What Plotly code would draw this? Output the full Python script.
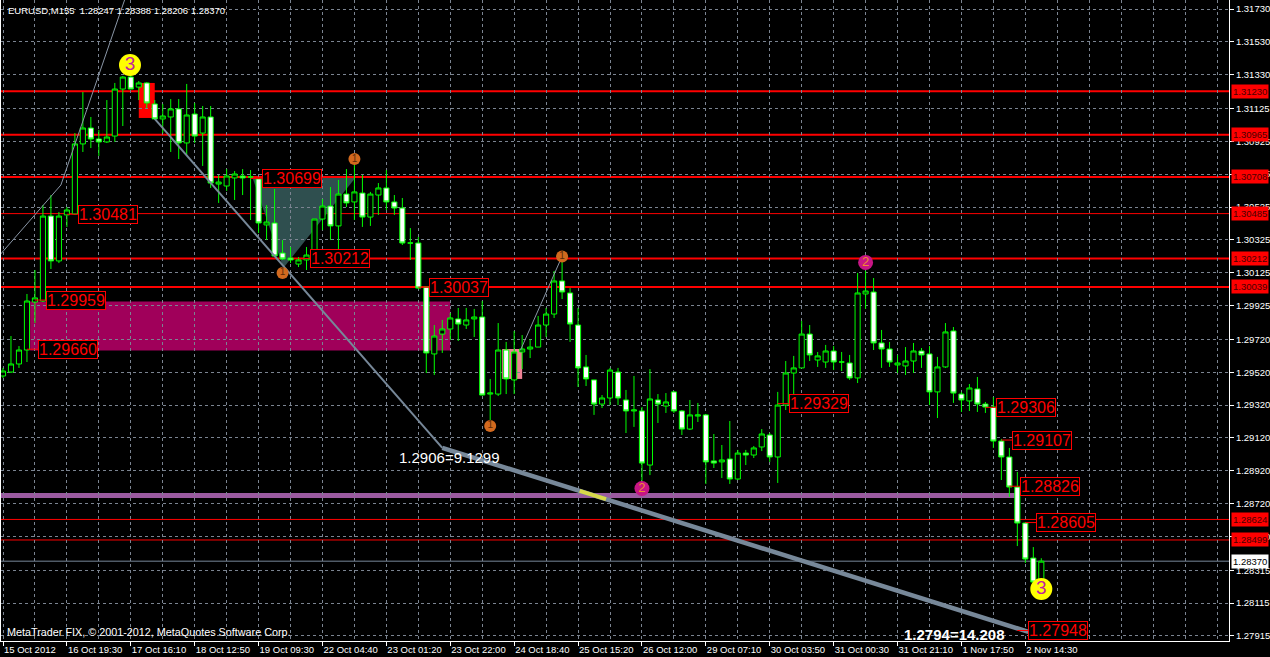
import numpy as np
import plotly.graph_objects as go

# ---------------- data ----------------
bar_index = list(range(131))
opens = [1.29497,1.29521,1.29570,1.29655,1.29947,1.29953,1.30470,1.30197,1.30477,1.30483,
         1.30909,1.31006,1.30939,1.30921,1.30957,1.31243,1.31316,1.31255,1.31280,1.31152,
         1.31061,1.31073,1.31122,1.30915,1.31091,1.30975,1.31073,1.30665,1.30653,1.30702,
         1.30714,1.30708,1.30696,1.30416,1.30428,1.30245,1.30215,1.30178,1.30203,1.30215,
         1.30452,1.30531,1.30410,1.30604,1.30556,1.30610,1.30464,1.30598,1.30641,1.30556,
         1.30519,1.30306,1.30306,1.30038,1.29631,1.29752,1.29783,1.29844,1.29807,1.29844,
         1.29856,1.29387,1.29387,1.29655,1.29473,1.29643,1.29661,1.29673,1.29807,1.29874,
         1.30075,1.30002,1.29807,1.29552,1.29473,1.29326,1.29363,1.29521,1.29351,1.29284,
         1.29284,1.28955,1.29351,1.29314,1.29400,1.29284,1.29174,1.29253,1.29260,1.28980,
         1.28974,1.28992,1.28870,1.29028,1.29016,1.29065,1.29138,1.29004,1.29320,1.29515,
         1.29546,1.29752,1.29594,1.29582,1.29649,1.29582,1.29576,1.29485,1.29996,1.30008,
         1.29698,1.29661,1.29564,1.29558,1.29588,1.29649,1.29631,1.29400,1.29552,1.29771,
         1.29387,1.29345,1.29418,1.29326,1.29308,1.29101,1.29004,1.28821,1.28602,1.28389,
         1.28247]
highs = [1.29546,1.29740,1.29679,1.29996,1.30142,1.30537,1.30598,1.30495,1.30525,1.30975,
         1.31225,1.31073,1.30994,1.31176,1.31280,1.31322,1.31347,1.31292,1.31286,1.31176,
         1.31152,1.31182,1.31182,1.31274,1.31158,1.31140,1.31140,1.30720,1.30756,1.30744,
         1.30756,1.30750,1.30702,1.30537,1.30635,1.30324,1.30282,1.30221,1.30282,1.30452,
         1.30574,1.30647,1.30690,1.30756,1.30811,1.30720,1.30617,1.30671,1.30750,1.30598,
         1.30580,1.30397,1.30343,1.30038,1.29807,1.29838,1.29880,1.29911,1.29911,1.29905,
         1.29953,1.29479,1.29819,1.29704,1.29771,1.29746,1.29722,1.29862,1.29911,1.30136,
         1.30197,1.30032,1.29911,1.29625,1.29473,1.29381,1.29546,1.29546,1.29412,1.29497,
         1.29308,1.29539,1.29387,1.29393,1.29406,1.29290,1.29351,1.29333,1.29266,1.29144,
         1.29077,1.29223,1.29047,1.29047,1.29071,1.29174,1.29150,1.29400,1.29588,1.29619,
         1.29832,1.29807,1.29643,1.29686,1.29679,1.29643,1.29625,1.30124,1.30136,1.30093,
         1.29777,1.29704,1.29625,1.29673,1.29698,1.29667,1.29679,1.29613,1.29819,1.29795,
         1.29400,1.29448,1.29491,1.29339,1.29369,1.29114,1.29059,1.28913,1.28608,1.28456,
         1.28388]
lows = [1.29485,1.29515,1.29546,1.29582,1.29819,1.29947,1.30148,1.30184,1.30404,1.30477,
        1.30860,1.30884,1.30836,1.30915,1.30921,1.31018,1.31243,1.31176,1.31128,1.31055,
        1.30975,1.30860,1.30817,1.30836,1.30915,1.30775,1.30641,1.30550,1.30623,1.30568,
        1.30598,1.30446,1.30367,1.30324,1.30221,1.30203,1.30184,1.30160,1.30142,1.30203,
        1.30385,1.30324,1.30221,1.30525,1.30446,1.30404,1.30410,1.30477,1.30507,1.30477,
        1.30294,1.30203,1.30026,1.29515,1.29503,1.29637,1.29716,1.29710,1.29783,1.29734,
        1.29381,1.29199,1.29375,1.29387,1.29387,1.29539,1.29606,1.29673,1.29734,1.29850,
        1.29965,1.29704,1.29430,1.29436,1.29260,1.29302,1.29320,1.29320,1.29150,1.29187,
        1.28846,1.28894,1.29211,1.29272,1.29272,1.29138,1.29168,1.29217,1.28840,1.28937,
        1.28876,1.28840,1.28864,1.28955,1.28998,1.29040,1.28974,1.28846,1.29290,1.29375,
        1.29546,1.29588,1.29552,1.29546,1.29533,1.29527,1.29473,1.29454,1.29905,1.29655,
        1.29546,1.29552,1.29515,1.29503,1.29515,1.29546,1.29320,1.29241,1.29546,1.29333,
        1.29278,1.29284,1.29278,1.29272,1.29059,1.28864,1.28761,1.28462,1.28359,1.28237,
        1.28206]
closes = [1.29527,1.29570,1.29655,1.29953,1.29972,1.30470,1.30197,1.30470,1.30507,1.30909,
          1.31006,1.30939,1.30921,1.30951,1.31243,1.31316,1.31243,1.31280,1.31158,1.31061,
          1.31079,1.31122,1.30915,1.31085,1.30957,1.31073,1.30671,1.30677,1.30714,1.30726,
          1.30702,1.30708,1.30428,1.30434,1.30227,1.30209,1.30203,1.30203,1.30233,1.30452,
          1.30531,1.30410,1.30604,1.30550,1.30617,1.30464,1.30604,1.30641,1.30556,1.30519,
          1.30306,1.30306,1.30032,1.29637,1.29740,1.29783,1.29850,1.29813,1.29838,1.29856,
          1.29381,1.29393,1.29655,1.29479,1.29643,1.29661,1.29673,1.29807,1.29874,1.30075,
          1.30008,1.29813,1.29546,1.29479,1.29326,1.29363,1.29533,1.29363,1.29284,1.29290,
          1.28967,1.29357,1.29326,1.29339,1.29284,1.29174,1.29260,1.29260,1.28974,1.28967,
          1.28986,1.28870,1.29028,1.29016,1.29059,1.29144,1.29004,1.29320,1.29515,1.29546,
          1.29752,1.29625,1.29619,1.29649,1.29582,1.29582,1.29485,1.30002,1.30014,1.29698,
          1.29661,1.29582,1.29576,1.29588,1.29649,1.29625,1.29400,1.29552,1.29765,1.29393,
          1.29351,1.29424,1.29326,1.29308,1.29101,1.29004,1.28821,1.28602,1.28383,1.28243,
          1.28370]

xtick_bars = list(range(0, 129, 8))
xtick_labels = ["15 Oct 2012", "16 Oct 19:30", "17 Oct 16:10", "18 Oct 12:50", "19 Oct 09:30",
                "22 Oct 04:40", "23 Oct 01:20", "23 Oct 22:00", "24 Oct 18:40", "25 Oct 15:20",
                "26 Oct 12:00", "29 Oct 07:10", "30 Oct 03:50", "31 Oct 00:30", "31 Oct 21:10",
                "1 Nov 17:50", "2 Nov 14:30"]
ytick_values = [1.31730, 1.31530, 1.31330, 1.31125, 1.30925, 1.30725, 1.30525, 1.30325, 1.30125,
                1.29925, 1.29720, 1.29520, 1.29320, 1.29120, 1.28920, 1.28720, 1.28520, 1.28315,
                1.28115, 1.27915]
ytick_labels = ["%.5f" % v for v in ytick_values]

level_prices = [1.31230, 1.30965, 1.30708, 1.30485, 1.30212, 1.30039, 1.28624, 1.28499]
current_price = 1.28370
purple_level = 1.28770
purple_end_bar = 127

zone_bars = [3.4, 56]
zone_prices = [1.29652, 1.29950]
pink_box_bars = [62.5, 65]
pink_box_prices = [1.29479, 1.29661]
red_box_bars = [17, 19]
red_box_prices = [1.31067, 1.31280]
triangle_bars = [31.25, 44.1, 35.1]
triangle_prices = [1.30702, 1.30702, 1.30154]

trend_bars = [19, 55, 128.4]
trend_prices = [1.31061, 1.29060, 1.27940]
left_line_bars = [-0.4, 7.25, 15.4]
left_line_prices = [1.30233, 1.30659, 1.31810]
zig_bars = [64.8, 69.8]
zig_prices = [1.29655, 1.30203]
yellow_seg_bars = [72.2, 75.5]

label_values = [1.30481, 1.29959, 1.29660, 1.30699, 1.30212, 1.30037, 1.29329, 1.29306,
                1.29107, 1.28826, 1.28605, 1.27948]
label_bars = [9, 5, 4, 32, 38, 53, 98, 124, 126, 127, 129, 128]

wave1_bars = [44, 35, 61, 70]
wave1_prices = [1.30817, 1.30124, 1.29193, 1.30224]
wave2_bars = [80, 108]
wave2_prices = [1.28812, 1.30188]
wave3_bars = [15.9, 130]
wave3_prices = [1.31389, 1.28201]

title_text = "EURUSD,M155\u00a0\u00a01.28247 1.28388 1.28206 1.28370"
copyright_text = "MetaTrader FIX, \u00a9 2001-2012, MetaQuotes Software Corp."

# ---------------- figure ----------------
FONT = "Liberation Sans"
GRID = "#7b8491"
SLATE = "#778899"

fig = go.Figure()

fig.add_trace(go.Scatter(x=left_line_bars, y=left_line_prices, mode="lines",
                         line=dict(color="#8a96a6", width=1), hoverinfo="skip"))
fig.add_trace(go.Scatter(x=zig_bars, y=zig_prices, mode="lines",
                         line=dict(color="#8a96a6", width=1), hoverinfo="skip"))

fig.add_trace(go.Candlestick(
    x=bar_index, open=opens, high=highs, low=lows, close=closes,
    increasing=dict(line=dict(color="#00ff00", width=1), fillcolor="#000000"),
    decreasing=dict(line=dict(color="#00ff00", width=1), fillcolor="#ffffff"),
    whiskerwidth=0, hoverinfo="skip"))

fig.add_trace(go.Scatter(x=trend_bars[:2], y=trend_prices[:2], mode="lines",
                         line=dict(color=SLATE, width=2), hoverinfo="skip"))
fig.add_trace(go.Scatter(x=trend_bars[1:], y=trend_prices[1:], mode="lines",
                         line=dict(color=SLATE, width=4.5), hoverinfo="skip"))
fig.add_trace(go.Scatter(x=yellow_seg_bars,
                         y=list(np.interp(yellow_seg_bars, trend_bars, trend_prices)),
                         mode="lines", line=dict(color="#d8d84a", width=4), hoverinfo="skip"))

fig.add_trace(go.Scatter(x=wave1_bars, y=wave1_prices, mode="markers+text",
                         marker=dict(size=12, color="#d2691e"),
                         text=["1"] * len(wave1_bars), textposition="middle center",
                         textfont=dict(color="#5a2a08", size=10, family=FONT), hoverinfo="skip"))
fig.add_trace(go.Scatter(x=wave2_bars, y=wave2_prices, mode="markers+text",
                         marker=dict(size=15, color="#c71585"),
                         text=["2"] * len(wave2_bars), textposition="middle center",
                         textfont=dict(color="#f08a30", size=13, family=FONT), hoverinfo="skip"))
fig.add_trace(go.Scatter(x=wave3_bars, y=wave3_prices, mode="markers+text",
                         marker=dict(size=22, color="#ffff00"),
                         text=["3"] * len(wave3_bars), textposition="middle center",
                         textfont=dict(color="#c020a0", size=19, family=FONT), hoverinfo="skip"))

shapes = []
shapes.append(dict(type="rect", xref="x", yref="y", x0=zone_bars[0], x1=zone_bars[1],
                   y0=zone_prices[0], y1=zone_prices[1], fillcolor="#a0005a",
                   line=dict(width=0), layer="below"))
shapes.append(dict(type="rect", xref="x", yref="y", x0=pink_box_bars[0], x1=pink_box_bars[1],
                   y0=pink_box_prices[0], y1=pink_box_prices[1], fillcolor="#ee8294",
                   line=dict(width=0), layer="below"))
shapes.append(dict(type="rect", xref="x", yref="y", x0=red_box_bars[0], x1=red_box_bars[1],
                   y0=red_box_prices[0], y1=red_box_prices[1], fillcolor="#ff0000",
                   line=dict(width=0), layer="below"))
tri_path = "M {} {} L {} {} L {} {} Z".format(triangle_bars[0], triangle_prices[0],
                                             triangle_bars[1], triangle_prices[1],
                                             triangle_bars[2], triangle_prices[2])
shapes.append(dict(type="path", xref="x", yref="y", path=tri_path, fillcolor="#2f4f4f",
                   line=dict(width=0), layer="below"))
shapes.append(dict(type="line", xref="x", yref="y", x0=-1, x1=purple_end_bar,
                   y0=purple_level, y1=purple_level, line=dict(color="#9a5aa0", width=5),
                   layer="below"))
level_widths = [2, 2, 2, 1, 2, 2, 1, 1]
for p, w in zip(level_prices, level_widths):
    shapes.append(dict(type="line", xref="paper", yref="y", x0=0, x1=1, y0=p, y1=p,
                       line=dict(color="#ff0000", width=w), layer="between"))
shapes.append(dict(type="line", xref="paper", yref="y", x0=0, x1=1, y0=current_price,
                   y1=current_price, line=dict(color=SLATE, width=1), layer="between"))
for b, v in zip(label_bars, label_values):
    shapes.append(dict(type="line", xref="x", yref="y", x0=b - 1, x1=b + 0.375, y0=v, y1=v,
                       line=dict(color="#ff0000", width=1), layer="above"))

annotations = []
for b, v in zip(label_bars, label_values):
    annotations.append(dict(x=b, y=v, xref="x", yref="y", text="%.5f" % v, showarrow=False,
                            xanchor="left", yanchor="middle", xshift=3,
                            font=dict(color="#ff0000", size=16, family=FONT),
                            bgcolor="#000000", bordercolor="#ff0000", borderwidth=1,
                            borderpad=0))
for p in level_prices:
    annotations.append(dict(x=1, y=p, xref="paper", yref="y", text="%.5f" % p, showarrow=False,
                            xanchor="left", yanchor="middle", xshift=2,
                            font=dict(color="#4a0000", size=9.5, family=FONT),
                            bgcolor="#ff0000", borderpad=1))
annotations.append(dict(x=1, y=current_price, xref="paper", yref="y", text="%.5f" % current_price,
                        showarrow=False, xanchor="left", yanchor="middle", xshift=2,
                        font=dict(color="#000000", size=9.5, family=FONT),
                        bgcolor="#ffffff", borderpad=1))
annotations.append(dict(x=trend_bars[1], y=trend_prices[1], xref="x", yref="y",
                        text="%.4f=9.1299" % trend_prices[1], showarrow=False,
                        xanchor="center", yanchor="middle", xshift=7, yshift=-10,
                        font=dict(color="#ffffff", size=15, family=FONT)))
annotations.append(dict(x=trend_bars[2], y=trend_prices[2], xref="x", yref="y",
                        text="<b>%.4f=14.208</b>" % trend_prices[2], showarrow=False,
                        xanchor="right", yanchor="middle", xshift=-22, yshift=-3,
                        font=dict(color="#ffffff", size=15, family=FONT)))
annotations.append(dict(x=0, y=1, xref="paper", yref="paper", text=title_text, showarrow=False,
                        xanchor="left", yanchor="top", xshift=5, yshift=-3,
                        font=dict(color="#ffffff", size=9.5, family=FONT)))
annotations.append(dict(x=0, y=0, xref="paper", yref="paper", text=copyright_text,
                        showarrow=False, xanchor="left", yanchor="bottom", xshift=4, yshift=1,
                        font=dict(color="#ffffff", size=10.8, family=FONT)))

fig.update_layout(
    width=1270, height=657,
    margin=dict(l=1, r=39, t=0, b=16),
    paper_bgcolor="#000000", plot_bgcolor="#000000",
    showlegend=False,
    boxgap=0.2, boxgroupgap=0.2,
    shapes=shapes, annotations=annotations,
    xaxis=dict(range=[-0.25, 153.5], tickmode="array", tickvals=xtick_bars, ticktext=xtick_labels,
               ticks="outside", ticklen=4, tickcolor="#ffffff",
               ticklabelposition="outside right",
               tickfont=dict(color="#ffffff", size=9.5, family=FONT),
               showgrid=True, gridcolor=GRID, gridwidth=1, griddash="3px,3px",
               minor=dict(tickmode="linear", tick0=0, dtick=4, showgrid=True, gridcolor=GRID,
                          gridwidth=1, griddash="3px,3px", ticks=""),
               showline=True, linecolor="#ffffff", linewidth=1, zeroline=False,
               rangeslider=dict(visible=False), fixedrange=True),
    yaxis=dict(range=[1.278843, 1.317848], side="right", tickmode="array",
               tickvals=ytick_values, ticktext=ytick_labels,
               ticks="outside", ticklen=4, tickcolor="#ffffff",
               tickfont=dict(color="#ffffff", size=9.5, family=FONT),
               showgrid=True, gridcolor=GRID, gridwidth=1, griddash="3px,3px",
               showline=True, mirror=True, linecolor="#ffffff", linewidth=1,
               zeroline=False, fixedrange=True),
)

fig.write_html("out.html", config={"displayModeBar": False},
               post_script="document.body.style.margin='0px';document.body.style.padding='0px';"
                           "document.body.style.background='#000000';")
